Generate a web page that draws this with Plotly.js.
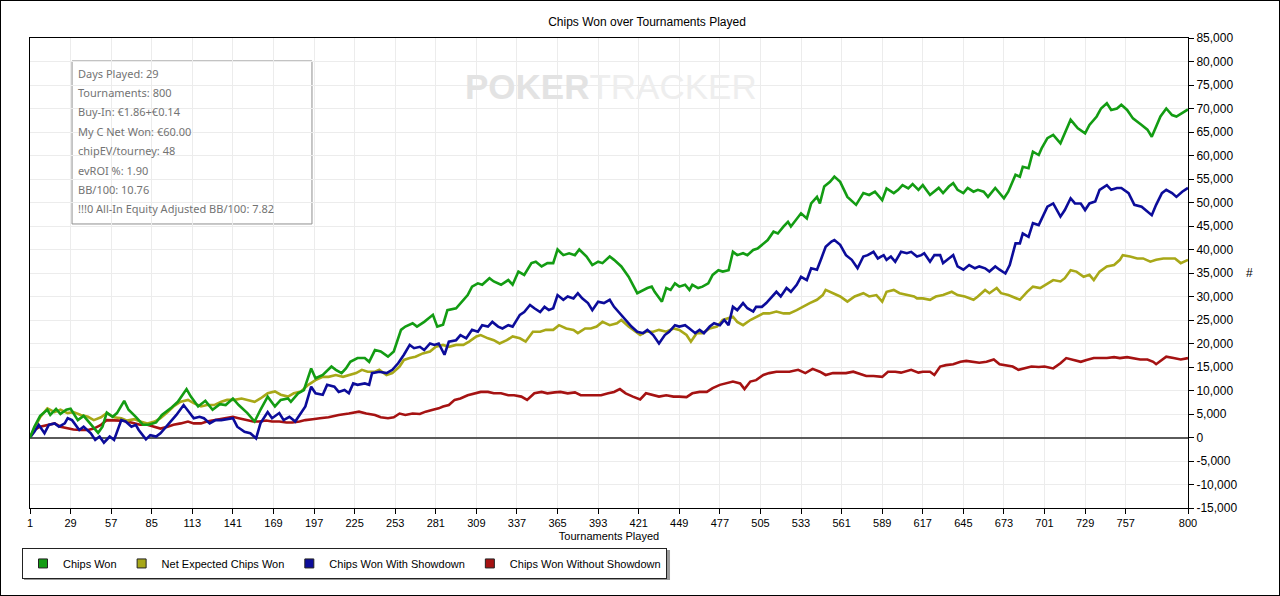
<!DOCTYPE html>
<html>
<head>
<meta charset="utf-8">
<script src="https://cdn.plot.ly/plotly-3.0.1.min.js"></script>
<style>
  html, body { margin: 0; padding: 0; background: #fff; }
  #chart { width: 1278px; height: 594px; border: 1px solid #000; }
</style>
</head>
<body>
<div id="chart"></div>
<script>
// values (tournament number -> chips)
const chipsWonT = [1,4,8,13,15,19,22,26,29,34,38,43,48,51,54,58,61,66,69,74,79,83,88,92,98,103,109,112,117,122,127,132,136,141,145,151,156,160,165,170,174,179,181,186,190,195,198,203,
  209,212,216,219,222,227,232,235,239,243,248,252,257,260,265,268,273,279,282,286,289,295,300,303,306,310,313,318,321,326,331,334,338,342,347,350,354,358,362,365,369,373,377,380,385,389,393,396,401,404,409,
  414,420,424,427,430,432,437,440,443,446,449,453,456,458,462,465,469,472,476,479,483,486,489,493,496,500,503,507,510,514,517,521,524,526,530,533,537,540,544,546,549,553,556,560,565,571,576,580,584,589,592,597,600,603,607,610,614,
  617,622,628,631,635,638,641,645,648,652,655,659,662,667,673,676,681,684,686,690,693,697,699,703,707,712,715,719,722,724,729,732,737,740,744,747,751,754,758,762,768,772,775,778,781,785,789,792,797,800]
const chipsWon = [0,2300,4600,5900,4800,6100,5000,5900,6100,3700,4600,2700,1000,2300,5300,4400,5200,7800,5900,4400,2700,2700,3200,4800,6200,7600,10300,8700,6600,7800,5900,7100,6900,8300,6900,5200,3400,5900,8700,6600,8000,8300,7600,9400,10100,14700,12600,13300,
  15100,14400,13700,14700,16100,16900,16900,16100,18600,18300,17200,18300,22900,23600,24300,23600,24600,26100,23600,24000,27100,27500,29300,30300,32100,32800,32500,33900,33200,32500,33500,32500,35300,34600,37100,37400,36400,37100,37100,40000,38800,39200,38800,40000,38500,36700,37400,37100,38500,37800,36400,
  34200,30700,31400,31800,32100,31000,28900,31800,31400,32800,32100,32500,31400,32500,31800,32100,32800,34600,35600,35300,35600,39500,38800,39200,38800,39900,40200,41300,42000,43800,43400,44900,45900,44900,46600,47700,46600,49800,51200,49800,53400,54400,55500,54400,51200,49500,52000,51600,52300,50500,53000,52000,52700,53700,53000,53900,52700,
  53700,51600,53100,52000,53400,54100,52700,52000,53100,52300,52700,52300,51200,53100,50900,52300,55900,55500,57600,57300,60800,60100,61500,63700,64400,62600,64700,67600,66500,65800,64700,66500,68300,70000,71100,69700,70000,70800,69700,67900,66500,65500,64000,66200,68300,70000,68600,68300,69300,69800]

const netExpectedT = [1,4,8,13,18,22,27,31,36,41,45,50,54,59,64,68,73,77,82,87,91,96,100,105,110,114,119,123,128,133,137,142,147,151,156,160,165,170,174,179,183,188,193,
  198,203,207,212,217,221,226,230,234,239,242,247,251,256,259,263,267,272,277,281,286,290,295,300,304,309,312,317,321,325,330,334,339,343,348,353,357,362,366,371,376,379,384,388,392,396,401,406,409,414,
  417,422,426,431,435,440,445,449,454,457,461,465,470,475,479,484,486,489,493,498,502,507,511,516,521,525,530,534,539,544,548,550,555,560,565,570,576,580,585,589,592,597,601,606,611,
  613,617,622,626,631,637,641,646,652,655,660,663,668,671,676,681,684,689,693,698,703,707,712,715,719,723,728,732,735,739,744,749,753,755,760,765,769,774,778,783,788,791,795,800]
const netExpected = [0,1900,4300,6200,5400,5900,5200,5400,4800,4400,3700,4300,5200,4300,4100,3600,3900,3400,3000,3400,4100,5400,6600,7600,8000,7300,6600,6900,6900,7600,8000,8000,8300,8000,7600,8300,9400,9800,9100,8700,9400,9800,11200,
  12200,12900,12900,13300,12900,13300,13700,14400,14000,14000,14400,13300,13700,15100,16500,16900,17200,17900,18300,19300,19700,19300,19700,19700,20400,21500,21800,21100,20700,20000,20700,21500,21100,20400,22500,22500,22900,22900,23900,23200,22900,22200,23200,23200,23600,24600,23900,24300,25000,23600,
  22900,21800,22500,22500,22900,22500,23200,22900,21800,20400,22200,22200,23200,23600,25000,25400,25700,24600,23900,25000,25700,26400,26400,26800,26400,26400,27100,27800,28600,29300,30300,31400,30700,30000,28900,30000,30700,30000,30300,28900,31000,31400,30700,30300,30000,
  29600,29600,29300,30000,30300,31000,30300,30000,29300,30000,31400,30700,31800,30700,30300,29600,29300,31000,32100,31800,32800,33500,33200,33900,35600,35300,34200,34600,33500,35300,36400,36700,37800,38800,38500,38100,38100,37400,37800,38100,38100,38100,37100,37800]

const showdownT = [1,4,7,11,14,18,21,25,27,30,35,38,43,46,49,52,56,59,64,67,71,74,76,81,84,88,91,96,102,107,111,114,118,121,125,129,133,136,141,144,149,153,157,160,165,168,173,176,180,184,188,191,195,198,203,
  206,211,214,218,221,224,227,232,235,237,242,247,251,255,259,263,266,270,273,277,280,283,287,290,295,298,302,306,310,313,317,320,324,327,331,334,339,342,346,349,353,356,359,362,365,369,372,376,379,382,386,389,393,397,401,404,
  410,416,420,424,427,431,435,439,442,446,449,453,456,460,463,466,470,473,477,480,483,486,489,493,496,500,502,506,509,513,516,519,523,526,530,533,537,540,544,547,550,554,556,560,564,568,572,576,579,583,586,590,592,595,598,602,606,609,613,
  616,618,622,625,629,631,635,638,641,645,649,653,656,660,663,667,670,674,677,681,684,686,690,693,697,699,703,707,712,715,719,722,726,729,732,736,739,744,747,751,754,759,763,768,772,775,778,782,785,789,792,796,800]
const showdown = [0,1200,2700,900,2700,3000,2300,3000,4100,3700,1600,2300,900,-500,200,-1100,200,-500,3700,3400,2300,2700,1600,-400,500,200,900,2700,4800,6900,5400,4100,4400,4100,3000,3700,3700,3900,4100,2300,1200,900,-200,3000,5400,4100,5200,3700,4400,3400,5400,6600,10800,9400,9100,
  11200,10800,9700,10100,9400,11500,11200,11500,11200,13700,14000,13700,14400,15800,17600,19700,19000,19300,18600,20000,19700,20000,17600,20400,20700,21800,21100,22900,22500,23900,23600,24600,23600,23200,23900,23600,26100,26700,28200,27500,26700,27800,27100,27500,30300,29300,30000,29600,30700,29600,28600,27100,28900,28600,29300,27800,
  25700,23600,22500,22200,22900,21800,20000,21800,22500,23900,23600,23900,23200,22200,22900,22200,23600,24300,23900,25000,23900,27800,27100,28600,27500,26800,27800,27800,28600,30000,31000,30000,31800,31000,32500,34200,33500,36000,35700,38100,40600,41700,42000,41000,38800,37800,36000,38500,38800,39500,38100,38800,37800,38500,37400,39500,39200,39500,38500,
  38800,39200,37400,38800,38800,37100,38100,38800,36400,35700,36700,36000,36400,36000,35300,36400,35700,34900,36700,41300,41300,43400,42700,45600,45200,46600,49100,49800,47000,48400,50900,49800,49800,48400,49800,50200,52700,53700,52700,53100,53100,52000,49500,49100,48000,47300,49500,52000,52700,52000,51200,52300,53100]

const noShowdownT = [1,4,8,13,18,22,27,31,36,41,45,50,54,59,64,68,73,77,82,87,91,96,100,105,110,114,119,123,128,133,137,141,145,150,155,159,164,168,173,178,182,187,191,196,199,
  201,207,214,221,228,233,239,243,248,252,256,260,265,270,274,279,283,286,290,294,298,303,308,312,317,321,326,331,335,340,344,349,354,358,363,367,372,377,381,386,390,395,400,404,408,
  412,417,422,426,431,435,440,445,449,454,458,463,468,472,477,481,486,491,494,498,502,507,511,516,521,525,531,536,541,546,550,555,560,564,569,574,578,583,589,593,598,602,609,614,
  617,622,625,629,633,638,643,647,652,656,661,666,670,675,679,683,687,692,697,701,707,712,716,721,726,730,735,739,744,749,753,758,762,767,772,776,778,782,785,790,795,800]
const noShowdown = [0,1600,2300,2700,3000,2300,1900,1700,1600,1600,1900,2700,3700,3700,3600,3400,3000,2700,2700,2300,1900,2300,2700,3000,3400,3000,3000,3400,3700,3900,4100,4400,4100,3700,3400,3400,3600,3400,3400,3200,3200,3400,3700,3900,4100,
  4100,4300,4800,5100,5500,5100,4800,4300,4100,4300,5100,4800,5100,5000,5500,5900,6200,6600,6900,8000,8300,9000,9400,9700,9700,9400,9400,9000,9000,8700,8000,9400,9700,9400,9600,9700,9400,9600,9000,9000,9000,9000,9400,9700,10300,
  9400,8700,8100,9400,9000,8700,9000,8700,8700,8600,9400,9700,9700,10500,11200,11500,11900,11500,10300,11900,12200,13300,13700,14000,14000,14000,14400,13700,14600,14000,13300,13700,13700,13700,14000,13500,13100,13100,12900,14000,14000,13800,14400,13800,
  14000,14000,13300,15100,15400,15600,16100,16300,16100,15900,16100,16600,15600,15400,15100,14400,14700,15100,15000,15100,14700,15800,16900,16500,16100,16500,16900,16900,16900,17100,16900,17100,16900,16600,16600,16100,15600,16600,17200,16900,16600,16900]

const seriesNames = ['Chips Won', 'Net Expected Chips Won', 'Chips Won With Showdown', 'Chips Won Without Showdown']
const seriesColors = ['#139c13', '#a8a818', '#0c0c9a', '#a51212']

const xTicks = [1,29,57,85,113,141,169,197,225,253,281,309,337,365,393,421,449,477,505,533,561,589,617,645,673,701,729,757,800]
const yTicks = [-15000,-10000,-5000,0,5000,10000,15000,20000,25000,30000,35000,40000,45000,50000,55000,60000,65000,70000,75000,80000,85000]

const infoLines = [
  'Days Played: 29',
  'Tournaments: 800',
  'Buy-In: €1.86+€0.14',
  'My C Net Won: €60.00',
  'chipEV/tourney: 48',
  'evROI %: 1.90',
  'BB/100: 10.76',
  '!!!0 All-In Equity Adjusted BB/100: 7.82',
]

const REG = '"Liberation Sans", Arial, sans-serif'

const lineTrace = (x, y, i) => ({
  x, y,
  type: 'scatter',
  mode: 'lines',
  name: seriesNames[i],
  showlegend: false,
  hoverinfo: 'skip',
  line: { color: seriesColors[i], width: 2.6 },
})

// legend shows squares, so the keys come from empty marker traces
const legendTraces = seriesNames.map((name, i) => ({
  x: [null], y: [null],
  type: 'scatter',
  mode: 'markers',
  name,
  marker: { symbol: 'square', size: 9, color: seriesColors[i], line: { color: '#222', width: 1 } },
}))

const data = [
  lineTrace(noShowdownT, noShowdown, 3),
  lineTrace(netExpectedT, netExpected, 1),
  lineTrace(showdownT, showdown, 2),
  lineTrace(chipsWonT, chipsWon, 0),
  ...legendTraces,
]

const annotations = [
  {
    xref: 'paper', yref: 'paper', x: 0.502, y: 0.896,
    xanchor: 'center', yanchor: 'middle',
    text: '<b>POKER</b><span style="color:#eeeeee">TRACKER</span>', showarrow: false,
    font: { family: REG, size: 35, color: '#e3e3e3' },
  },
  {
    xref: 'paper', yref: 'paper', x: 1.0527, y: 0.5,
    xanchor: 'center', yanchor: 'middle',
    text: '#', showarrow: false,
    font: { family: REG, size: 12, color: '#000' },
  },
  ...infoLines.map((t, i) => ({
    xref: 'paper', yref: 'paper',
    x: 0.0397, y: 0.9255 - i * 0.0413,
    xanchor: 'left', yanchor: 'middle',
    text: t, showarrow: false,
    font: { family: '"Noto Sans", "Open Sans", sans-serif', size: 11, color: '#737373' },
  })),
]

const layout = {
  width: 1278,
  height: 594,
  margin: { l: 29, r: 91, t: 37, b: 87 },
  paper_bgcolor: '#fff',
  plot_bgcolor: '#fff',
  font: { family: REG, size: 12, color: '#000' },
  title: {
    text: 'Chips Won over Tournaments Played',
    xref: 'container', x: 0.5055, xanchor: 'center',
    yref: 'container', y: 0.965, yanchor: 'middle',
    font: { family: REG, size: 12, color: '#000' },
  },
  xaxis: {
    range: [1, 800],
    tickvals: xTicks,
    ticktext: xTicks.map(String),
    ticks: 'outside', ticklen: 5, tickcolor: '#000',
    tickfont: { family: REG, size: 11 },
    showline: true, linecolor: '#000', linewidth: 1, mirror: true,
    showgrid: true, gridcolor: '#ececec', gridwidth: 1,
    zeroline: false,
    title: { text: 'Tournaments Played', standoff: 4, font: { family: REG, size: 11 } },
  },
  yaxis: {
    side: 'right',
    range: [-15000, 85000],
    tickvals: yTicks,
    ticktext: yTicks.map(v => v.toLocaleString('en-US')),
    ticks: 'outside', ticklen: 5, tickcolor: '#000',
    tickfont: { family: REG, size: 12 },
    showline: true, linecolor: '#000', linewidth: 1, mirror: true,
    showgrid: true, gridcolor: '#ececec', gridwidth: 1,
    zeroline: true, zerolinecolor: '#5a5a5a', zerolinewidth: 1.5,
  },
  shapes: [
    // info box frame
    {
      type: 'rect', xref: 'paper', yref: 'paper', layer: 'below',
      x0: 0.0363, x1: 0.2435, y0: 0.6043, y1: 0.9511,
      line: { color: '#8f8f8f', width: 1 }, fillcolor: 'rgba(0,0,0,0)',
    },
    // drop shadow behind the legend box
    {
      type: 'rect', xref: 'paper', yref: 'paper', layer: 'above',
      x0: -0.0052, x1: 0.5527, y0: -0.1532, y1: -0.0894,
      line: { width: 0 }, fillcolor: '#9a9a9a',
    },
  ],
  annotations,
  showlegend: true,
  legend: {
    orientation: 'h',
    x: -0.0069, y: -0.085, xanchor: 'left', yanchor: 'top',
    bgcolor: '#fff', bordercolor: '#222', borderwidth: 1,
    font: { family: REG, size: 11, color: '#000' },
    itemwidth: 30,
    traceorder: 'normal',
  },
}

Plotly.newPlot('chart', data, layout, { displayModeBar: false, responsive: false })
</script>
</body>
</html>
